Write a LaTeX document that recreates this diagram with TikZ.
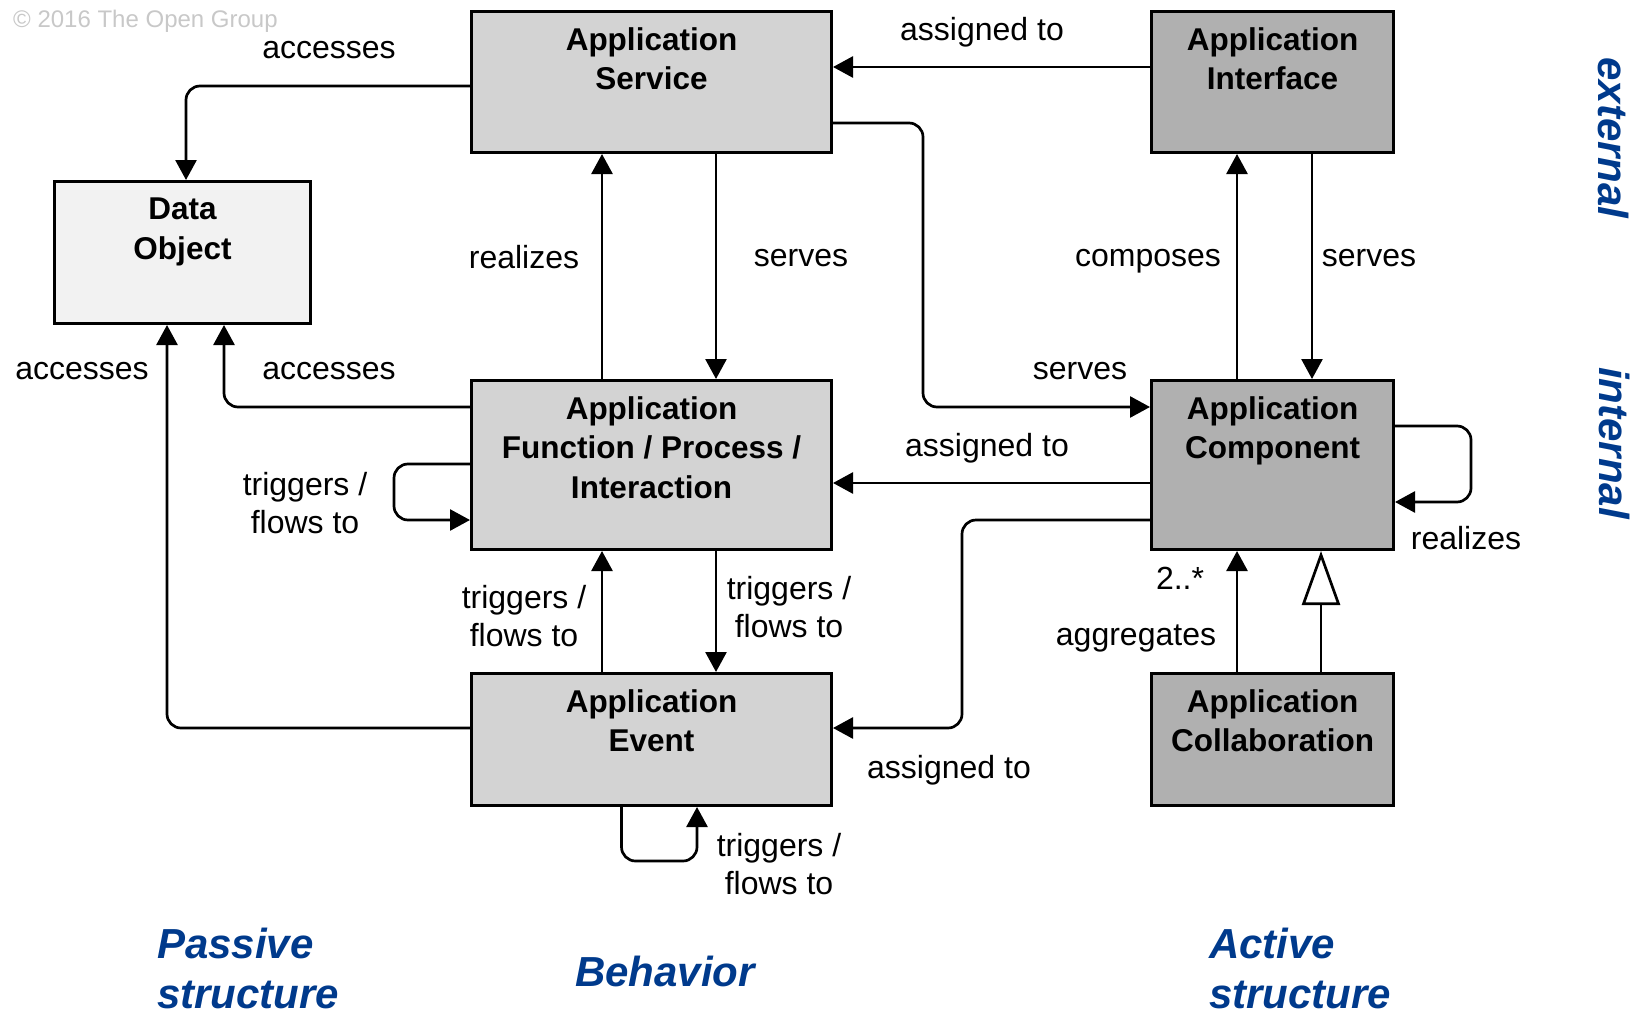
\documentclass[tikz,border=0pt]{standalone}
\usepackage{fontspec}
\setmainfont{Liberation Sans}
\usetikzlibrary{arrows.meta}
\definecolor{archblue}{RGB}{0,58,140}
\definecolor{boxlight}{RGB}{211,211,211}
\definecolor{boxdark}{RGB}{176,176,176}
\definecolor{boxpale}{RGB}{242,242,242}
\definecolor{copygray}{RGB}{200,200,200}
\begin{document}
\begin{tikzpicture}[x=1pt,y=-1pt,
  elbox/.style={draw=black, line width=3pt, anchor=north west, inner sep=0pt},
  btext/.style={font=\fontsize{31.5}{39.5}\selectfont\bfseries, align=center, anchor=north, inner sep=0pt},
  lbl/.style={font=\fontsize{32}{38.5}\selectfont, align=center, inner sep=0pt},
  conn/.style={line width=2.7pt, -{Triangle[length=20pt,width=21pt]}, rounded corners=14pt},
  spec/.style={line width=2.7pt, -{Triangle[length=54pt,width=38pt,fill=white,line width=2.7pt]}},
  sidelabel/.style={font=\fontsize{42}{50}\selectfont\bfseries\itshape, text=archblue, inner sep=0pt}
]
\useasboundingbox (0,0) rectangle (1637,1014);

% copyright
\node[font=\fontsize{24}{28}\selectfont, text=copygray, anchor=west, inner sep=0pt] (copy) at (13,21) {© 2016 The Open Group};

% boxes
\node[elbox, fill=boxlight, minimum width=360pt, minimum height=141pt] (svc) at (470,10) {};
\node[elbox, fill=boxdark,  minimum width=242pt, minimum height=141pt] (itf) at (1150,10) {};
\node[elbox, fill=boxpale,  minimum width=256pt, minimum height=142pt] (dob) at (53,180) {};
\node[elbox, fill=boxlight, minimum width=360pt, minimum height=169pt] (fn)  at (470,379) {};
\node[elbox, fill=boxdark,  minimum width=242pt, minimum height=169pt] (cmp) at (1150,379) {};
\node[elbox, fill=boxlight, minimum width=360pt, minimum height=132pt] (evt) at (470,672) {};
\node[elbox, fill=boxdark,  minimum width=242pt, minimum height=132pt] (col) at (1150,672) {};

% box texts
\node[btext] (svct) at ([yshift=-17pt]svc.north) {Application\\Service};
\node[btext] (itft) at ([yshift=-17pt]itf.north) {Application\\Interface};
\node[btext] (dobt) at ([yshift=-18pt]dob.north) {Data\\Object};
\node[btext] (fnt)  at ([yshift=-17pt]fn.north)  {Application\\Function / Process /\\Interaction};
\node[btext] (cmpt) at ([yshift=-17pt]cmp.north) {Application\\Component};
\node[btext] (evtt) at ([yshift=-17pt]evt.north) {Application\\Event};
\node[btext] (colt) at ([yshift=-17pt]col.north) {Application\\Collaboration};

% connectors
\draw[conn] (svc.west |- 0,86) -| (dob.north -| 186,0);
\draw[conn] (itf.west |- 0,67) -- (svc.east |- 0,67);
\draw[conn] (svc.east |- 0,123) -| (923,300) |- (cmp.west |- 0,407);
\draw[conn] (fn.north -| 602,0) -- (svc.south -| 602,0);
\draw[conn] (svc.south -| 716,0) -- (fn.north -| 716,0);
\draw[conn] (cmp.north -| 1237,0) -- (itf.south -| 1237,0);
\draw[conn] (itf.south -| 1312,0) -- (cmp.north -| 1312,0);
\draw[conn] (fn.west |- 0,407) -| (dob.south -| 224,0);
\draw[conn] (evt.west |- 0,728) -| (dob.south -| 167,0);
\draw[conn] (fn.west |- 0,464) -| (394,492) |- (fn.west |- 0,520);
\draw[conn] (cmp.west |- 0,483) -- (fn.east |- 0,483);
\draw[conn] (cmp.west |- 0,520) -| (962,620) |- (evt.east |- 0,728);
\draw[conn] (cmp.east |- 0,426) -| (1471,460) |- (cmp.east |- 0,502);
\draw[conn] (evt.north -| 602,0) -- (fn.south -| 602,0);
\draw[conn] (fn.south -| 716,0) -- (evt.north -| 716,0);
\draw[conn] (evt.south -| 621.5,0) |- (660,861) -| (evt.south -| 697,0);
\draw[conn] (col.north -| 1237,0) -- (cmp.south -| 1237,0);
\draw[spec] (col.north -| 1321,0) -- (cmp.south -| 1321,0);

% connector labels
\node[lbl] (l1) at (329,50) {accesses};
\node[lbl] (l2) at (982,32) {assigned to};
\node[lbl] (l3) at (524,257) {realizes};
\node[lbl] (l4) at (801,258) {serves};
\node[lbl] (l5) at (1148,261) {composes};
\node[lbl] (l6) at (1369,258) {serves};
\node[lbl] (l7) at (1080,371) {serves};
\node[lbl] (l8) at (82,371) {accesses};
\node[lbl] (l9) at (329,371) {accesses};
\node[lbl] (l10) at (305,503) {triggers /\\flows to};
\node[lbl] (l11) at (987,448) {assigned to};
\node[lbl] (l12) at (1466,538) {realizes};
\node[lbl] (l13) at (1180,578) {2..*};
\node[lbl] (l14) at (1136,638) {aggregates};
\node[lbl] (l15) at (524,616) {triggers /\\flows to};
\node[lbl] (l16) at (789,607) {triggers /\\flows to};
\node[lbl] (l17) at (949,770) {assigned to};
\node[lbl] (l18) at (779,864) {triggers /\\flows to};

% side labels
\node[sidelabel, rotate=-90] (ext) at (1613,138) {external};
\node[sidelabel, rotate=-90] (int) at (1614,443) {internal};
\node[sidelabel, anchor=west, align=left] (pas) at (157,968) {Passive\\structure};
\node[sidelabel] (beh) at (665,971) {Behavior};
\node[sidelabel, anchor=west, align=left] (act) at (1209,968) {Active\\structure};
\end{tikzpicture}
\end{document}
